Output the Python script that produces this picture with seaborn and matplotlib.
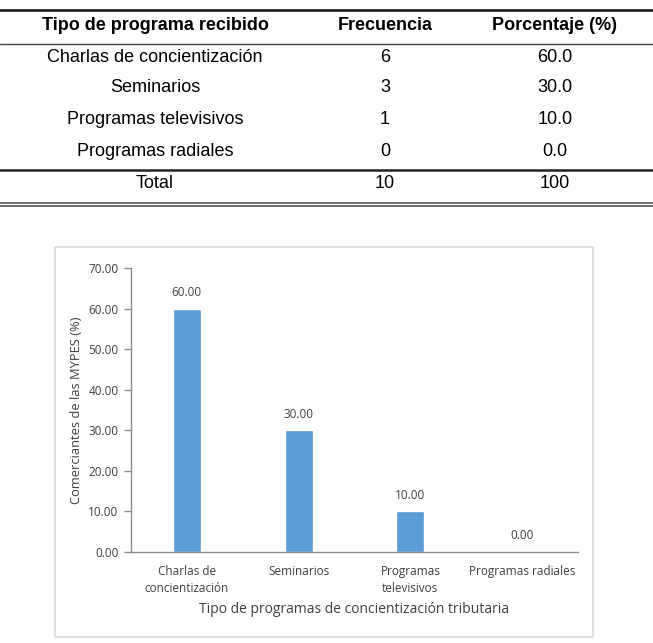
import matplotlib
matplotlib.use('Agg')
import matplotlib.pyplot as plt
from matplotlib.patches import Rectangle
from matplotlib.lines import Line2D
import pandas as pd
import seaborn as sns

sns.set_style('white')

# Table data
table_header = ['Tipo de programa recibido', 'Frecuencia', 'Porcentaje (%)']
table_tipos = ['Charlas de concientización', 'Seminarios', 'Programas televisivos', 'Programas radiales']
table_frec = ['6', '3', '1', '0']
table_pct = ['60.0', '30.0', '10.0', '0.0']
table_total = ['Total', '10', '100']

# Chart data
categorias = ['Charlas de\nconcientización', 'Seminarios', 'Programas\ntelevisivos', 'Programas radiales']
porcentajes = [60.0, 30.0, 10.0, 0.0]
y_ticks = [0, 10, 20, 30, 40, 50, 60, 70]

BAR_COLOR = '#5B9BD5'
AXIS_COLOR = '#8c8c8c'
TEXT_COLOR = '#404040'
CHART_FONT = 'Open Sans'
TABLE_FONT = 'Liberation Sans'
TABLE_SIZE = 13

W, H = 653, 643
fig = plt.figure(figsize=(W / 100, H / 100), dpi=100)
fig.patch.set_facecolor('white')


def fy(py):
    return 1 - py / H


def fx(px):
    return px / W


#----------------------------------------------------------------------------------------------------------------
# Table
#----------------------------------------------------------------------------------------------------------------
col_x = [155, 385, 555]

for x, t in zip(col_x, table_header):
    fig.text(fx(x), fy(26), t, ha='center', va='center', fontsize=TABLE_SIZE, weight='bold',
             family=TABLE_FONT, color='black')

row_y = [57, 88, 119, 151]
for y, a, b, c in zip(row_y, table_tipos, table_frec, table_pct):
    for x, t in zip(col_x, [a, b, c]):
        fig.text(fx(x), fy(y), t, ha='center', va='center', fontsize=TABLE_SIZE,
                 family=TABLE_FONT, color='black')

for x, t in zip(col_x, table_total):
    fig.text(fx(x), fy(183), t, ha='center', va='center', fontsize=TABLE_SIZE,
             family=TABLE_FONT, color='black')

for y, lw, c in [(10, 2.0, '#222222'), (44, 1.0, '#444444'), (170, 1.8, '#222222'),
                 (203, 1.2, '#555555'), (206, 1.2, '#555555')]:
    fig.add_artist(Line2D([0, 1], [fy(y), fy(y)], transform=fig.transFigure, color=c, lw=lw))

#----------------------------------------------------------------------------------------------------------------
# Chart box
#----------------------------------------------------------------------------------------------------------------
box = Rectangle((fx(55), fy(637)), fx(593) - fx(55), fy(247) - fy(637),
                transform=fig.transFigure, facecolor='white', edgecolor='#d9d9d9', lw=1.2, zorder=-5)
fig.add_artist(box)

ax = fig.add_axes([fx(131), fy(552), fx(578) - fx(131), fy(268) - fy(552)])
ax.set_zorder(2)
ax.set_facecolor('none')

df = pd.DataFrame({'categoria': categorias, 'porcentaje': porcentajes})
sns.barplot(data=df, x='categoria', y='porcentaje', color=BAR_COLOR, width=0.25,
            saturation=1, ax=ax)

ax.bar_label(ax.containers[0], labels=['%.2f' % v for v in porcentajes], padding=7,
             fontsize=8.5, family=CHART_FONT, color=TEXT_COLOR)

ax.set_ylim(0, 70)
ax.set_xlim(-0.5, 3.5)
ax.set_yticks(y_ticks)
ax.set_yticklabels(['%.2f' % v for v in y_ticks], fontsize=8.5, family=CHART_FONT, color=TEXT_COLOR)
ax.set_xticks(range(len(categorias)))
ax.set_xticklabels(categorias, fontsize=8.5, family=CHART_FONT, color=TEXT_COLOR, linespacing=1.4)

for s in ['top', 'right']:
    ax.spines[s].set_visible(False)
for s in ['left', 'bottom']:
    ax.spines[s].set_color(AXIS_COLOR)
    ax.spines[s].set_linewidth(1.0)

ax.tick_params(axis='y', which='both', left=True, length=5, width=1, color=AXIS_COLOR, pad=4)
ax.tick_params(axis='x', which='both', bottom=False, pad=6)

ax.set_ylabel('Comerciantes de las MYPES (%)', fontsize=9.3, family=CHART_FONT, color=TEXT_COLOR, labelpad=4)
ax.set_xlabel('Tipo de programas de concientización tributaria', fontsize=10, family=CHART_FONT,
              color=TEXT_COLOR, labelpad=5)

plt.savefig('out.png', dpi=100, facecolor='white')
plt.close()
